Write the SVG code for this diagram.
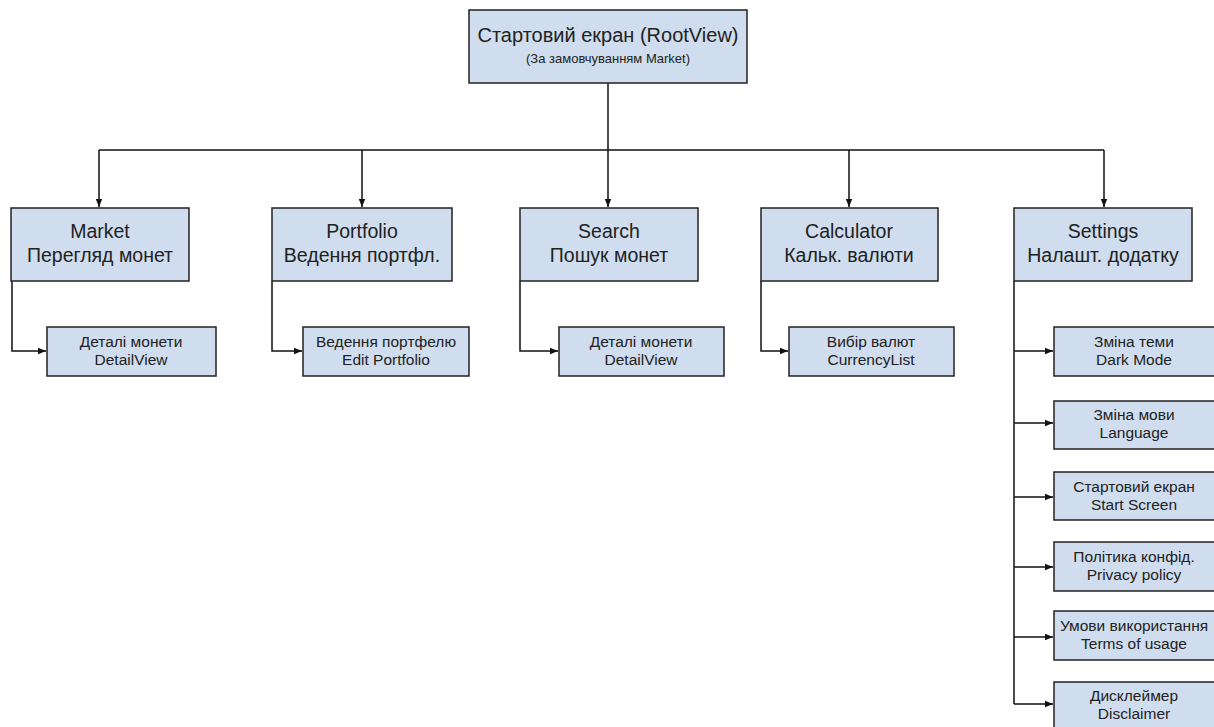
<svg xmlns="http://www.w3.org/2000/svg" width="1214" height="727" viewBox="0 0 1214 727">
<defs>
<style>
.box{fill:#cfddee;stroke:#222;stroke-width:1.5}
.t{font-family:"Liberation Sans",Arial,sans-serif;fill:#222;text-anchor:middle}
.big{font-size:20px}
.mid{font-size:19.5px}
.sm{font-size:15.5px}
.xs{font-size:13px}
.c{fill:none;stroke:#111;stroke-width:1.5}
</style>
<marker id="ah" viewBox="0 0 10 10" refX="10" refY="5" markerWidth="8" markerHeight="8" markerUnits="userSpaceOnUse" orient="auto">
<path d="M0,1 L10,5 L0,9 Z" fill="#111"/>
</marker>
</defs>
<rect width="1214" height="727" fill="#fff"/>
<g id="connectors">
<path class="c" d="M608,83 V150"/>
<path class="c" d="M99,150 H1104"/>
<path class="c" d="M99,150 V207" marker-end="url(#ah)"/>
<path class="c" d="M362,150 V207" marker-end="url(#ah)"/>
<path class="c" d="M608,150 V207" marker-end="url(#ah)"/>
<path class="c" d="M849,150 V207" marker-end="url(#ah)"/>
<path class="c" d="M1104,150 V207" marker-end="url(#ah)"/>
<path class="c" d="M12,281 V351 H46" marker-end="url(#ah)"/>
<path class="c" d="M272,281 V351 H302" marker-end="url(#ah)"/>
<path class="c" d="M520,281 V351 H558" marker-end="url(#ah)"/>
<path class="c" d="M761,281 V351 H788" marker-end="url(#ah)"/>
<path class="c" d="M1014,281 V704"/>
<path class="c" d="M1014,351 H1053" marker-end="url(#ah)"/>
<path class="c" d="M1014,423 H1053" marker-end="url(#ah)"/>
<path class="c" d="M1014,497 H1053" marker-end="url(#ah)"/>
<path class="c" d="M1014,567 H1053" marker-end="url(#ah)"/>
<path class="c" d="M1014,637 H1053" marker-end="url(#ah)"/>
<path class="c" d="M1014,704 H1053" marker-end="url(#ah)"/>
</g>
<g id="root">
<rect class="box" x="469" y="10" width="278" height="73"/>
<text class="t big" x="608" y="42">Стартовий екран (RootView)</text>
<text class="t xs" x="608" y="63">(За замовчуванням Market)</text>
</g>
<g id="market">
<rect class="box" x="11" y="208" width="178" height="73"/>
<text class="t mid" x="100" y="238">Market</text>
<text class="t mid" x="100" y="262">Перегляд монет</text>
</g>
<g id="portfolio">
<rect class="box" x="272" y="208" width="180" height="73"/>
<text class="t mid" x="362" y="238">Portfolio</text>
<text class="t mid" x="362" y="262">Ведення портфл.</text>
</g>
<g id="search">
<rect class="box" x="520" y="208" width="178" height="73"/>
<text class="t mid" x="609" y="238">Search</text>
<text class="t mid" x="609" y="262">Пошук монет</text>
</g>
<g id="calculator">
<rect class="box" x="761" y="208" width="177" height="73"/>
<text class="t mid" x="849" y="238">Calculator</text>
<text class="t mid" x="849" y="262">Кальк. валюти</text>
</g>
<g id="settings">
<rect class="box" x="1014" y="208" width="178" height="73"/>
<text class="t mid" x="1103" y="238">Settings</text>
<text class="t mid" x="1103" y="262">Налашт. додатку</text>
</g>
<g id="market-detail">
<rect class="box" x="47" y="327" width="169" height="49"/>
<text class="t sm" x="131" y="347">Деталі монети</text>
<text class="t sm" x="131" y="365">DetailView</text>
</g>
<g id="portfolio-edit">
<rect class="box" x="303" y="327" width="166" height="49"/>
<text class="t sm" x="386" y="347">Ведення портфелю</text>
<text class="t sm" x="386" y="365">Edit Portfolio</text>
</g>
<g id="search-detail">
<rect class="box" x="559" y="327" width="165" height="49"/>
<text class="t sm" x="641" y="347">Деталі монети</text>
<text class="t sm" x="641" y="365">DetailView</text>
</g>
<g id="currency-list">
<rect class="box" x="789" y="327" width="165" height="49"/>
<text class="t sm" x="871" y="347">Вибір валют</text>
<text class="t sm" x="871" y="365">CurrencyList</text>
</g>
<g id="dark-mode">
<rect class="box" x="1054" y="327" width="162" height="49"/>
<text class="t sm" x="1134" y="347">Зміна теми</text>
<text class="t sm" x="1134" y="365">Dark Mode</text>
</g>
<g id="language">
<rect class="box" x="1054" y="401" width="162" height="48"/>
<text class="t sm" x="1134" y="420">Зміна мови</text>
<text class="t sm" x="1134" y="438">Language</text>
</g>
<g id="start-screen">
<rect class="box" x="1054" y="472" width="162" height="48"/>
<text class="t sm" x="1134" y="492">Стартовий екран</text>
<text class="t sm" x="1134" y="510">Start Screen</text>
</g>
<g id="privacy">
<rect class="box" x="1054" y="542" width="162" height="49"/>
<text class="t sm" x="1134" y="562">Політика конфід.</text>
<text class="t sm" x="1134" y="580">Privacy policy</text>
</g>
<g id="terms">
<rect class="box" x="1054" y="611" width="162" height="49"/>
<text class="t sm" x="1134" y="631">Умови використання</text>
<text class="t sm" x="1134" y="649">Terms of usage</text>
</g>
<g id="disclaimer">
<rect class="box" x="1054" y="682" width="162" height="50"/>
<text class="t sm" x="1134" y="701">Дисклеймер</text>
<text class="t sm" x="1134" y="719">Disclaimer</text>
</g>
</svg>
